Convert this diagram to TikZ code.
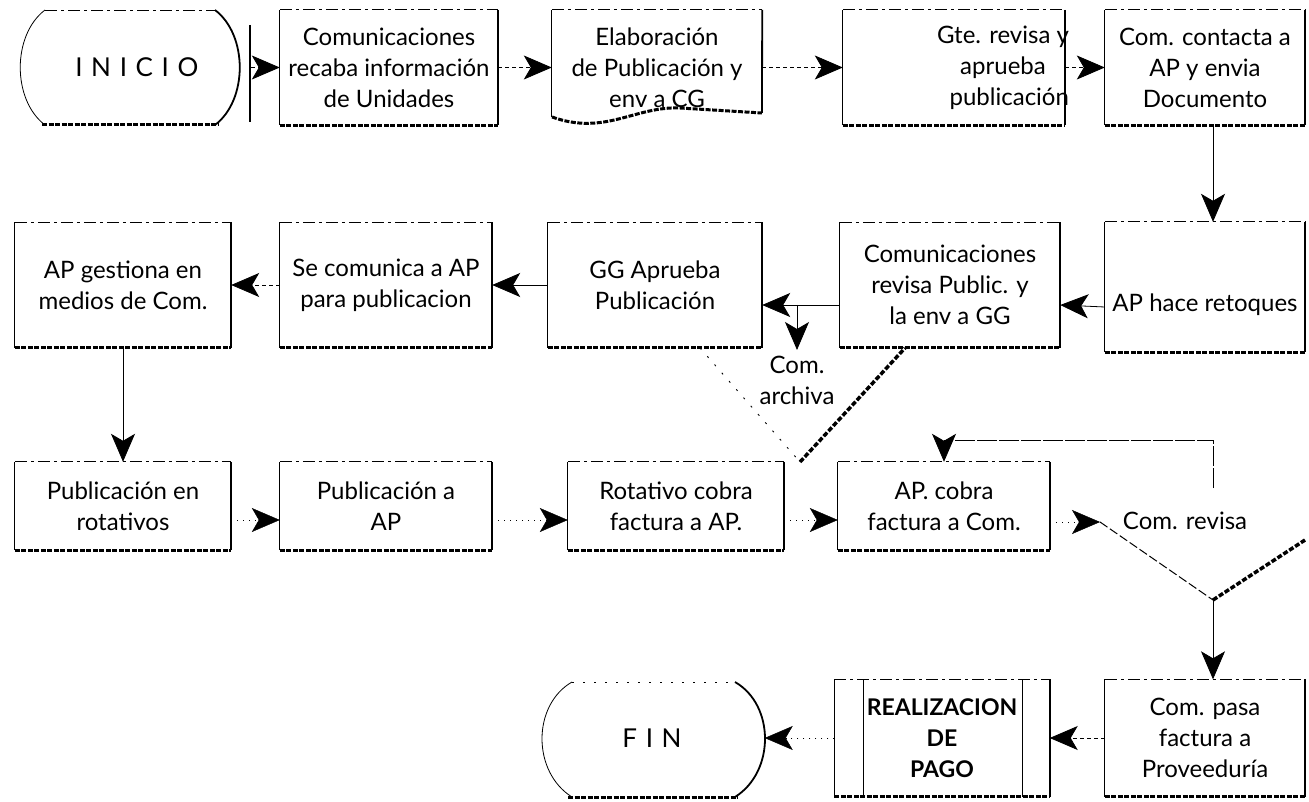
\documentclass[tikz,border=0pt]{standalone}
\usepackage{fontspec}
\setmainfont{Lato}
\usetikzlibrary{arrows.meta}
\tikzset{
  pbox/.style n args={2}{minimum width=#1, minimum height=#2, inner sep=0pt, align=center, font=\fontsize{24}{31}\selectfont},
  lft/.style={line width=0.8pt},
  topl/.style={line width=0.8pt, dash pattern=on 12pt off 4pt on 3pt off 4pt},
  rgt/.style={line width=1.8pt},
  bot/.style={line width=3pt, dash pattern=on 5pt off 1.5pt},
  sparse/.style={line width=0.9pt, dash pattern=on 2pt off 9pt},
  tip/.style={-{Stealth[length=28pt,width=24pt,inset=7pt]}},
  conn/.style={tip, line width=0.8pt},
  dconn/.style={tip, line width=0.8pt, dash pattern=on 4pt off 3pt},
  fconn/.style={tip, line width=0.4pt, dash pattern=on 1pt off 5pt},
  lbl/.style={align=center, font=\fontsize{24}{31}\selectfont},
}
\begin{document}
\begin{tikzpicture}[x=1pt,y=-1pt]
\useasboundingbox (0,0) rectangle (1309,802);
% ---------- row 1
\node[pbox={236}{115}, font=\fontsize{26}{31}\selectfont] (S) at (133,67.5) {\hspace{0.3em}I\,\,N\,\,I\,\,C\,\,I\,\,O};
\node[pbox={218}{115}] (A) at (389,67.5) {Comunicaciones\\recaba información\\de Unidades};
\node[pbox={210}{115}] (B) at (657,67.5) {Elaboración\\de Publicación y\\env a CG};
\node[pbox={222}{115}] (C) at (954,67.5) {};
\node[lbl] (Ct) at (1003,67.5) {\hfill Gte. revisa y\\aprueba\\\hfill publicación};
\node[pbox={200}{115}] (D) at (1205,67.5) {Com. contacta a\\AP y envia\\Documento};
% ---------- row 2
\node[pbox={200}{130}] (E) at (1205,287) {};
\node[lbl] (Et) at (1205,305) {AP hace retoques};
\node[pbox={220}{125}] (F) at (950,285) {Comunicaciones\\revisa Public. y\\la env a GG};
\node[pbox={214}{125}] (G) at (655,285) {GG Aprueba\\Publicación};
\node[pbox={212}{125}] (H) at (386,285) {Se comunica a AP\\para publicacion};
\node[pbox={216}{125}] (I) at (123,285) {AP gestiona en\\medios de Com.};
% ---------- row 3
\node[pbox={216}{88}] (J) at (123,506) {Publicación en\\rotativos};
\node[pbox={212}{88}] (K) at (386,506) {Publicación a\\AP};
\node[pbox={216}{88}] (L) at (676,506) {Rotativo cobra\\factura a AP.};
\node[pbox={212}{88}] (M) at (944,506) {AP. cobra\\factura a Com.};
% ---------- row 4
\node[pbox={200}{117}] (O) at (1205,738) {Com. pasa\\factura a\\Proveeduría};
\node[pbox={215}{117}, font=\fontsize{23}{31}\selectfont\bfseries] (N) at (942,738) {REALIZACION\\DE\\PAGO};
\node[pbox={225}{117}, font=\fontsize{26}{31}\selectfont] (FIN) at (652,738) {F\,\,I\,\,N};
% box outlines
\foreach \n in {A,C,D,E,F,G,H,I,J,K,L,M,O,N}{
  \draw[lft] (\n.south west) -- (\n.north west);
  \draw[topl] (\n.north west) -- (\n.north east);
  \draw[rgt] (\n.north east) -- (\n.south east);
  \draw[bot] (\n.south west) -- (\n.south east);
}
\draw[lft] (863,680) -- (863,797);
\draw[lft] (1022,680) -- (1022,797);
% document shape B
\draw[lft] (B.south west) ++(0,-8) -- (B.north west);
\draw[topl] (B.north west) -- (B.north east);
\draw[rgt] (B.north east) -- (762,113);
\draw[bot] (552,117) .. controls (605,136) and (635,106) .. (680,108) -- (762,113);
% terminal INICIO
\draw[topl] (45,10) -- (215,10);
\draw[lft] (45,10) .. controls (12,35) and (12,100) .. (45,125);
\draw[rgt] (215,10) .. controls (248,35) and (248,100) .. (215,125);
\draw[rgt] (250,25) -- (250,122);
\draw[bot] (42,125) -- (218,125);
% terminal FIN
\draw[sparse] (572,682) -- (735,682);
\draw[lft] (572,682) .. controls (532,705) and (532,772) .. (572,797);
\draw[rgt] (735,682) .. controls (775,705) and (775,772) .. (735,797);
\draw[bot] (568,797) -- (738,797);
% archive triangle
\coordinate (ta1) at (700,348);
\coordinate (ta2) at (905,348);
\coordinate (ta3) at (800,462);
\draw[sparse] (ta1) -- (ta3);
\draw[line width=3.5pt, dash pattern=on 5pt off 2pt] (ta3) -- (ta2);
\node[lbl] (arch) at (797,380) {Com.\\archiva};
% review triangle
\coordinate (tr1) at (1100,522);
\coordinate (tr2) at (1305,540);
\coordinate (tr3) at (1213,600);
\draw[line width=1pt, dash pattern=on 9pt off 3pt] (tr1) -- (tr3);
\draw[line width=3.5pt, dash pattern=on 5pt off 2pt] (tr3) -- (tr2);
\node[lbl] (rev) at (1185,521) {Com. revisa};
% ---------- connectors
\draw[dconn] (S.east) -- (A.west);
\draw[dconn] (A.east) -- (B.west);
\draw[dconn] (B.east) -- (C.west);
\draw[dconn] (C.east) -- (D.west);
\draw[conn] (D.south -| 1213,0) -- (E.north -| 1213,0);
\draw[conn] ([yshift=-20pt]E.west) -- ([yshift=-20pt]F.east);
\draw[conn] ([yshift=-20pt]F.west) -- ([yshift=-20pt]G.east);
\coordinate (br) at (797,305);
\coordinate (archtop) at (797,350);
\draw[conn] (br) -- (archtop);
\draw[conn] (G.west) -- (H.east);
\draw[dconn] (H.west) -- (I.east);
\draw[conn] (I.south) -- (J.north);
\draw[fconn] ([yshift=-14pt]J.east) -- ([yshift=-14pt]K.west);
\draw[fconn] ([yshift=-14pt]K.east) -- ([yshift=-14pt]L.west);
\draw[fconn] ([yshift=-14pt]L.east) -- ([yshift=-14pt]M.west);
\draw[fconn] ([yshift=-16pt]M.east) -- (tr1);
\coordinate (fb) at (1213,488);
\coordinate (fbc) at (1213,440);
\draw[conn, dash pattern=on 20pt off 2pt] (fb) -- (fbc) -| (M.north);
\draw[conn] (tr3) -- (tr3 |- O.north);
\draw[dconn] (O.west) -- (N.east);
\draw[fconn] (N.west) -- (FIN.east);
\end{tikzpicture}
\end{document}
